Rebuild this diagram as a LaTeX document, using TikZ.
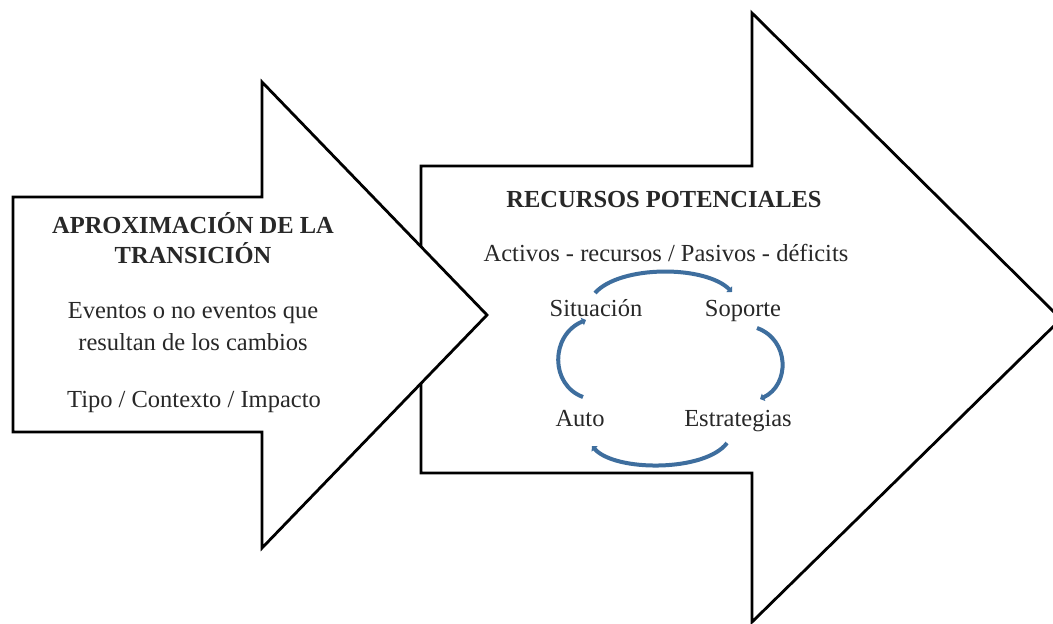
\documentclass[tikz,border=0pt]{standalone}
\usepackage{fontspec}
\setmainfont{Liberation Serif}
\usetikzlibrary{arrows.meta}
\definecolor{txt}{RGB}{40,40,40}
\definecolor{cyc}{RGB}{62,110,158}
\tikzset{
  bigarrow/.style={draw=black, fill=white, line width=2.8pt, line join=miter},
  lbl/.style={anchor=base, inner sep=0pt, text=txt, font=\fontsize{24.5}{28}\selectfont},
  ttl/.style={lbl, font=\fontsize{24.5}{28}\selectfont\bfseries},
  cycle arrow/.style={draw=cyc, line width=4pt, -{Triangle[length=4pt,width=8pt]}}
}
\begin{document}
\begin{tikzpicture}[x=1pt,y=-1pt]
\useasboundingbox (0,0) rectangle (1053,624);
\begin{scope}
\clip (0,0) rectangle (1053,624);
% right arrow
\draw[bigarrow] (421,166) -- (752,166) -- (752,13) -- (1061,319) -- (752,622) -- (752,473) -- (421,473) -- cycle;
\end{scope}
% left arrow
\draw[bigarrow] (13,197) -- (262,197) -- (262,82) -- (487,315) -- (262,548) -- (262,432) -- (13,432) -- cycle;
% left texts
\node[ttl] (t1) at (193,233) {APROXIMACIÓN DE LA};
\node[ttl] (t2) at (193,263) {TRANSICIÓN};
\node[lbl] (e1) at (193,318) {Eventos o no eventos que};
\node[lbl] (e2) at (193,350) {resultan de los cambios};
\node[lbl] (e3) at (194,407) {Tipo / Contexto / Impacto};
% right texts
\node[ttl] (r1) at (664,207) {RECURSOS POTENCIALES};
\node[lbl] (r2) at (666,261) {Activos - recursos / Pasivos - déficits};
\node[lbl] (sit) at (596,316) {Situación};
\node[lbl] (sop) at (743,316) {Soporte};
\node[lbl] (aut) at (580,426) {Auto};
\node[lbl] (est) at (738,426) {Estrategias};
% cycle endpoints
\coordinate (a1) at (595,293); \coordinate (a2) at (732,292);
\coordinate (b1) at (757,328); \coordinate (b2) at (760,399);
\coordinate (c1) at (727,443); \coordinate (c2) at (592,446);
\coordinate (d1) at (583,397); \coordinate (d2) at (586,320);
\draw[cycle arrow] (a1) .. controls (620,265) and (705,265) .. (a2);
\draw[cycle arrow] (b1) .. controls (790,340) and (790,385) .. (b2);
\draw[cycle arrow] (c1) .. controls (705,472) and (615,472) .. (c2);
\draw[cycle arrow] (d1) .. controls (550,385) and (550,335) .. (d2);
\end{tikzpicture}
\end{document}
